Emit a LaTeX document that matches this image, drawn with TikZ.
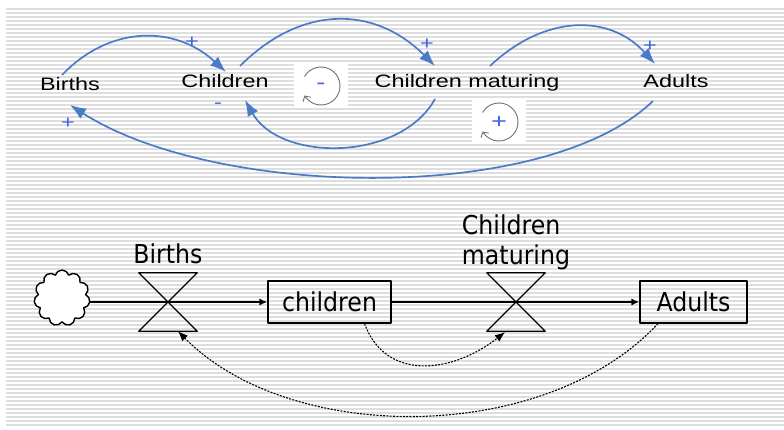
\documentclass[tikz,border=0pt]{standalone}
\usepackage{fontspec}
\setmainfont{Liberation Sans}
\newfontfamily\cldfont[FakeStretch=1.3]{Liberation Sans}
\newfontfamily\sfdfont[FakeStretch=0.91]{DejaVu Sans}
\usetikzlibrary{arrows.meta,positioning,calc,shapes.symbols}
\definecolor{linkblue}{HTML}{4A7BC8}
\definecolor{signblue}{HTML}{3D63E6}

\begin{document}
\begin{tikzpicture}[x=1pt,y=-1pt,line join=round,
	cld/.style={font=\cldfont\fontsize{18}{20}\selectfont,inner sep=1pt,anchor=base},
	sgn/.style={font=\cldfont\fontsize{18}{18}\selectfont,text=signblue,inner sep=0pt},
	link/.style={draw=linkblue,line width=1.7pt,-{Latex[length=16pt,width=12pt]}},
	loopbox/.style={fill=white,minimum width=54pt,minimum height=44pt,inner sep=0pt,font=\cldfont\fontsize{21}{21}\selectfont,text=signblue},
	loopcirc/.style={draw=black!55,line width=0.9pt,-{Straight Barb[length=4pt,width=9pt]}},
	sfd/.style={font=\sfdfont\fontsize{26}{30}\selectfont,inner sep=1pt},
	stock/.style={sfd,draw,line width=1.2pt,minimum height=42pt,inner sep=0pt},
	valve/.style={minimum width=58pt,minimum height=58pt,inner sep=0pt},
	flow/.style={line width=1.4pt,-{Latex[length=8pt,width=7pt]}},
	info/.style={line width=1.1pt,dash pattern=on 2pt off 1.3pt,-{Latex[length=10pt,width=8pt]}}]
	\useasboundingbox (0,0) rectangle (784,430);
	% striped background
	\foreach \yy in {9,13,...,427} \draw[black!13,line width=1.3pt] (6,\yy)--(784,\yy);
	
	% causal loop diagram
	\node[cld] (births) at (70,91) {Births};
	\node[cld] (children) at (225,88) {Children};
	\node[cld] (maturing) at (467,88) {Children maturing};
	\node[cld] (adults) at (676,88) {Adults};
	\draw[link] ($(births.base)+(-8,-16)$) .. controls (110,25) and (175,25) .. ($(children.base)+(1,-16)$);
	\draw[link] ($(children.base)+(15,-22)$) .. controls (301,5) and (374,5) .. ($(maturing.base)+(-32,-22)$);
	\draw[link] ($(maturing.base)+(-32,11)$) .. controls (400,162) and (280,162) .. ($(children.base)+(20,12)$);
	\draw[link] ($(maturing.base)+(23,-22)$) .. controls (545,14) and (610,14) .. ($(adults.base)+(-21,-24)$);
	\draw[link] ($(adults.base)+(-23,13)$) .. controls (545,205) and (215,198) .. ($(births.base)+(0,14)$);
	\node[sgn] (plusBC) at (192,42) {+};
	\node[sgn] (plusCM) at (427,44) {+};
	\node[sgn] (plusMA) at (650,46) {+};
	\node[sgn] (minusMC) at (218,106) {-};
	\node[sgn] (plusAB) at (68,123) {+};
	% loop markers
	\node[loopbox] (balloop) at (321,86) {-};
	\node[loopbox] (reiloop) at (499,122) {+};
	\draw[loopcirc] ($(balloop.center)+(-150:19)$) arc[start angle=-150,end angle=150,radius=19];
	\draw[loopcirc] ($(reiloop.center)+(-150:19)$) arc[start angle=-150,end angle=150,radius=19];
	
	% stock and flow diagram
	\node[cloud,cloud puffs=11,aspect=1,draw,fill=white,line width=1.4pt,minimum width=56pt,minimum height=56pt,inner sep=0pt] (source) at (62,298) {};
	\node[valve] (bv) at (168,302) {};
	\node[stock,minimum width=123pt] (kids) at (329.5,302) {children};
	\node[valve] (mv) at (516,302) {};
	\node[stock,minimum width=107pt] (grown) at (693.5,302) {Adults};
	\node[sfd,above=8pt of bv] (bvlabel) {Births};
	\node[sfd,align=left,above=2pt of mv] (mvlabel) {Children\\maturing};
	\foreach \v in {bv,mv}
		\draw[line width=1.4pt] (\v.north west)--(\v.north east)--(\v.south west)--(\v.south east)--cycle;
	\draw[flow] (source.east|-bv.center)--(kids.west);
	\draw[flow] (kids.east)--(grown.west);
	\draw[info] ($(kids.south)+(35,0)$) .. controls (385,380) and (450,375) .. ($(mv.south)+(-11,1)$);
	\draw[info] ($(grown.south)+(-35.5,0)$) .. controls (545,445) and (290,445) .. ($(bv.south)+(10,0)$);
\end{tikzpicture}
\end{document}
